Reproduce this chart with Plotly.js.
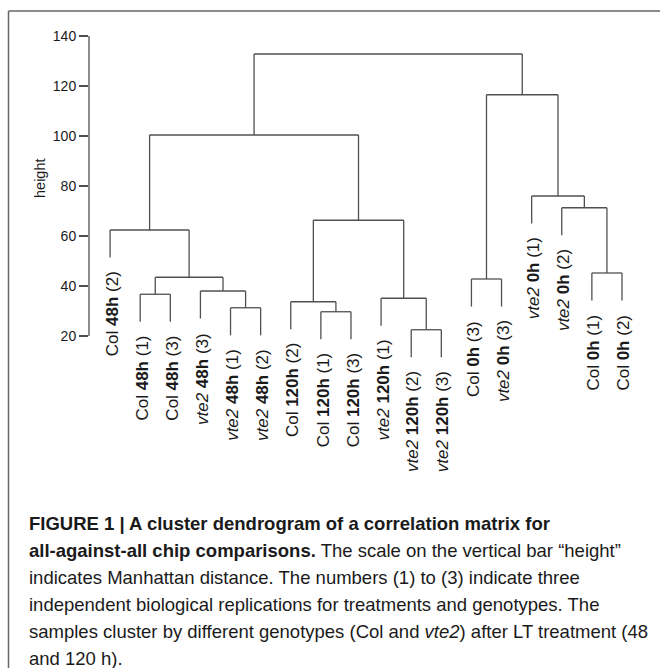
<!DOCTYPE html>
<html>
<head>
<meta charset="utf-8">
<script src="https://cdn.plot.ly/plotly-3.0.1.min.js"></script>
<style>
  html, body { margin: 0; padding: 0; background: #fff; }
  #chart { width: 660px; height: 668px; }
</style>
</head>
<body>
<div id="chart"></div>
<script>
// ---- Data (leaf order as displayed) ----
const leafGenotype = ["Col","Col","Col","vte2","vte2","vte2","Col","Col","Col","vte2","vte2","vte2","Col","vte2","vte2","vte2","Col","Col"];
const leafTime     = ["48h","48h","48h","48h","48h","48h","120h","120h","120h","120h","120h","120h","0h","0h","0h","0h","0h","0h"];
const leafRep      = [2,1,3,3,1,2,2,1,3,1,2,3,3,3,1,2,1,2];

// hclust-style merges: negative = leaf (1-based), positive = earlier merge (1-based)
const mergeLeft   = [-11, -8, -5, -7, -10, -2, -4, -13, 6, -17, -1, 4, -16, -15, 11, 8, 15];
const mergeRight  = [-12, -9, -6,  2,   1, -3,  3, -14, 7, -18,  9, 5,  10,  13, 12, 14, 16];
const mergeHeight = [22.5, 29.7, 31.3, 33.7, 35.1, 36.7, 38.0, 42.8, 43.5, 45.2, 62.4, 66.3, 71.3, 76.0, 100.4, 116.5, 132.8];

const yTickVals = [20, 40, 60, 80, 100, 120, 140];

const captionLines = [
  "<b>FIGURE 1 | A cluster dendrogram of a correlation matrix for</b>",
  "<b>all-against-all chip comparisons.</b> The scale on the vertical bar \u201cheight\u201d",
  "indicates Manhattan distance. The numbers (1) to (3) indicate three",
  "independent biological replications for treatments and genotypes. The",
  "samples cluster by different genotypes (Col and <i>vte2</i>) after LT treatment (48",
  "and 120 h)."
];

// ---- Geometry helpers ----
const W = 660, H = 668;
const M = { l: 89, r: 10, t: 36, b: 282 };
const plotW = W - M.l - M.r, plotH = H - M.t - M.b;
const yRange = [0, 140];
const xRange = [0.3, 18.93];
function pxX(px) { return (px - M.l) / plotW; }
function pxY(py) { return (H - M.b - py) / plotH; }

// ---- Build dendrogram segments ----
const hang = 0.1 * (Math.max(...mergeHeight) - Math.min(...mergeHeight));
const nodeX = [], leafEnd = new Array(leafRep.length);
function childX(c) { return c < 0 ? (-c) : nodeX[c - 1]; }
const segX = [], segY = [];
for (let i = 0; i < mergeHeight.length; i++) {
  const h = mergeHeight[i];
  const kids = [mergeLeft[i], mergeRight[i]];
  const xs = kids.map(childX);
  kids.forEach((c, k) => {
    const bottom = c < 0 ? h - hang : mergeHeight[c - 1];
    if (c < 0) leafEnd[-c - 1] = bottom;
    segX.push(xs[k], xs[k], null);
    segY.push(bottom, h, null);
  });
  segX.push(xs[0], xs[1], null);
  segY.push(h, h, null);
  nodeX.push((xs[0] + xs[1]) / 2);
}

const lineColor = "#505050";
const trace = {
  x: segX, y: segY, type: "scatter", mode: "lines",
  line: { color: lineColor, width: 1.3 },
  hoverinfo: "skip", showlegend: false
};

const fontFam = "Liberation Sans, Arial, Helvetica, sans-serif";
const annotations = [];

// leaf labels
leafRep.forEach((r, i) => {
  const g = leafGenotype[i] === "vte2" ? "<i>vte2</i>" : "Col";
  annotations.push({
    x: i + 1, y: leafEnd[i], xref: "x", yref: "y",
    text: g + " <b>" + leafTime[i] + "</b> (" + r + ")",
    textangle: -90, showarrow: false,
    xanchor: "center", yanchor: "top", yshift: -12, xshift: 2,
    font: { family: fontFam, size: 17, color: "#1a1a1a" }
  });
});

// y axis title
annotations.push({
  x: pxX(40), y: pxY(178), xref: "paper", yref: "paper",
  text: "height", textangle: -90, showarrow: false,
  xanchor: "center", yanchor: "middle",
  font: { family: fontFam, size: 14.5, color: "#1a1a1a" }
});

// caption
const capY0 = 523, capStep = 27;
captionLines.forEach((t, i) => {
  annotations.push({
    x: pxX(27), y: pxY(capY0 + i * capStep), xref: "paper", yref: "paper",
    text: t, showarrow: false, xanchor: "left", yanchor: "middle", align: "left",
    font: { family: fontFam, size: 18.5, color: "#1a1a1a" }
  });
});

const shapes = [
  // y axis line only from 20 to 140
  { type: "line", xref: "paper", yref: "y", x0: 0, x1: 0, y0: 20, y1: 140,
    line: { color: lineColor, width: 1.3 } },
  // figure frame (left and top)
  { type: "line", xref: "paper", yref: "paper", x0: pxX(8.5), x1: pxX(8.5), y0: pxY(11), y1: pxY(H + 2),
    line: { color: "#666666", width: 1.5 } },
  { type: "line", xref: "paper", yref: "paper", x0: pxX(8.5), x1: pxX(W + 2), y0: pxY(11), y1: pxY(11),
    line: { color: "#666666", width: 1.5 } }
];

const layout = {
  width: W, height: H,
  margin: M,
  paper_bgcolor: "#ffffff", plot_bgcolor: "#ffffff",
  showlegend: false,
  xaxis: { range: xRange, visible: false, fixedrange: true },
  yaxis: {
    range: yRange, showline: false, showgrid: false, zeroline: false,
    tickmode: "array", tickvals: yTickVals, ticks: "outside", ticklen: 9,
    tickwidth: 1.3, tickcolor: lineColor,
    tickfont: { family: fontFam, size: 14, color: "#1a1a1a" }, fixedrange: true
  },
  annotations: annotations,
  shapes: shapes
};

Plotly.newPlot("chart", [trace], layout, { displayModeBar: false, staticPlot: true });
</script>
</body>
</html>
